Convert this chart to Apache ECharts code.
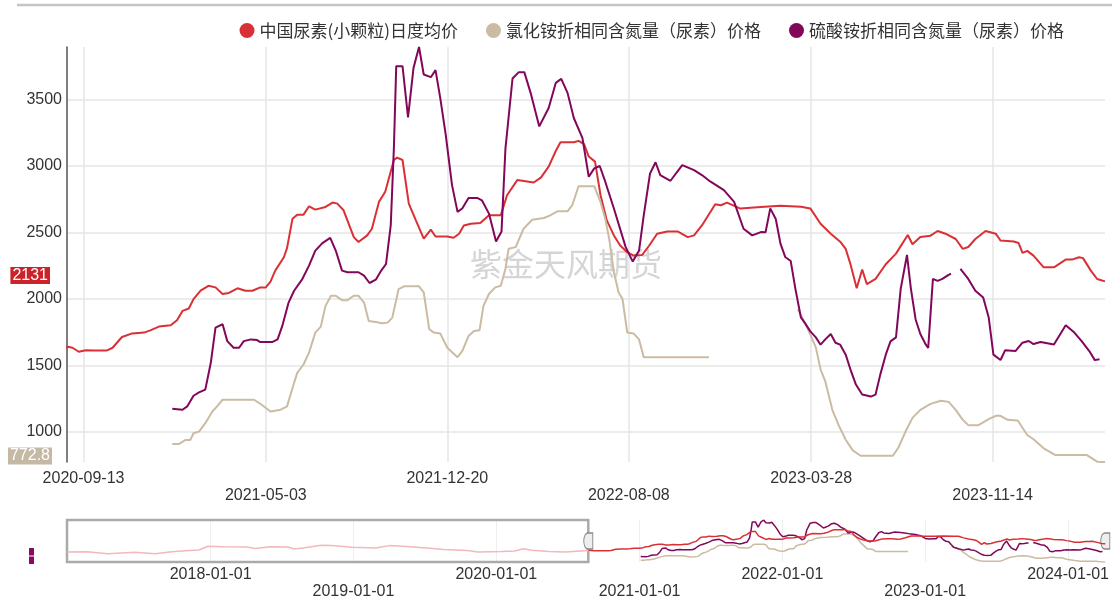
<!DOCTYPE html>
<html><head><meta charset="utf-8">
<script src="https://cdn.jsdelivr.net/npm/echarts@6/dist/echarts.min.js"></script>
<style>html,body{margin:0;padding:0;background:#fff}#c{width:1112px;height:600px}</style>
</head><body><div id="c"></div>
<script>
const legendNames = ['中国尿素(小颗粒)日度均价', '氯化铵折相同含氮量（尿素）价格', '硫酸铵折相同含氮量（尿素）价格'];
const colors = ['#da3035', '#cbbba3', '#82075a'];

const redDates = ['2016-12-30','2017-02-19','2017-04-13','2017-06-21','2017-08-12','2017-09-24','2017-11-07','2017-12-02','2017-12-25','2018-02-01','2018-04-04','2018-04-24','2018-06-03','2018-07-17','2018-08-03','2018-08-29','2018-10-11','2018-11-06','2018-12-28','2019-02-27','2019-04-03','2019-05-07','2019-07-07','2019-08-20','2019-10-19','2019-11-15','2020-01-14','2020-02-17','2020-03-10','2020-03-31','2020-05-15','2020-06-27','2020-08-14',
'2020-08-24','2020-08-30','2020-09-07','2020-09-16','2020-09-26','2020-10-13','2020-10-20','2020-11-01','2020-11-14','2020-11-29','2020-12-07','2020-12-18','2021-01-02','2021-01-10','2021-01-17','2021-01-25','2021-01-31','2021-02-09','2021-02-19','2021-02-28','2021-03-09','2021-03-17','2021-03-28','2021-04-07','2021-04-16','2021-04-26','2021-05-03','2021-05-09','2021-05-15','2021-05-26','2021-05-30','2021-06-06','2021-06-12','2021-06-20','2021-06-27','2021-07-05','2021-07-18','2021-07-27','2021-08-02','2021-08-10','2021-08-23','2021-08-29','2021-09-09','2021-09-15','2021-09-24','2021-10-02','2021-10-13','2021-10-17','2021-10-24','2021-11-01','2021-11-10','2021-11-20','2021-11-29','2021-12-05','2021-12-20','2021-12-28','2022-01-04','2022-01-10','2022-01-19','2022-01-31','2022-02-11','2022-02-26','2022-03-06','2022-03-19','2022-04-09','2022-04-18','2022-04-28','2022-05-07','2022-05-13','2022-05-30','2022-06-05','2022-06-12','2022-06-18','2022-06-26','2022-07-03','2022-07-11','2022-07-20','2022-07-28','2022-08-06','2022-08-14','2022-08-25','2022-09-03','2022-09-13','2022-09-26','2022-10-09','2022-10-22','2022-10-30','2022-11-09','2022-11-26','2022-12-03','2022-12-11','2022-12-28','2023-01-23','2023-02-17','2023-03-15','2023-03-27','2023-04-09','2023-04-22','2023-05-04','2023-05-11','2023-05-17','2023-05-25','2023-06-01','2023-06-07','2023-06-18','2023-07-01','2023-07-14','2023-07-29','2023-08-04','2023-08-14','2023-08-27','2023-09-05','2023-09-15','2023-09-28','2023-10-07','2023-10-14','2023-10-23','2023-11-05','2023-11-18','2023-11-24','2023-12-11','2023-12-17','2023-12-22','2023-12-28','2024-01-05','2024-01-18','2024-01-31','2024-02-15','2024-02-23','2024-03-03','2024-03-08','2024-03-18','2024-03-26','2024-04-05'];
const redValues = [1520,1530,1390,1500,1390,1530,1630,1660,1940,1910,1890,1780,1910,1890,1740,1830,2010,1990,1870,1810,1990,1940,1810,1710,1630,1520,1560,1590,1760,1640,1560,1520,1600,
1640,1632,1602,1614,1612,1612,1632,1713,1740,1746,1763,1791,1801,1839,1909,1927,1998,2061,2098,2086,2036,2044,2079,2061,2061,2086,2086,2129,2212,2313,2381,2603,2633,2633,2696,2671,2691,2724,2716,2666,2464,2427,2477,2527,2729,2805,3044,3062,3044,2716,2590,2452,2520,2469,2469,2459,2489,2552,2565,2570,2628,2628,2779,2893,2875,2911,2994,3112,3178,3178,3188,3163,3070,3032,2779,2590,2477,2401,2351,2325,2330,2401,2489,2507,2507,2464,2477,2552,2711,2704,2724,2679,2691,2700,2693,2680,2565,2490,2430,2376,2262,2080,2220,2110,2150,2260,2340,2480,2410,2465,2475,2510,2490,2450,2376,2390,2450,2510,2490,2439,2431,2420,2346,2361,2325,2237,2237,2295,2295,2313,2306,2212,2149,2131];

const grayDates = ['2021-01-04','2021-01-12','2021-01-21','2021-01-27','2021-01-31','2021-02-07','2021-02-15','2021-02-24','2021-03-02','2021-03-09','2021-04-18','2021-04-26','2021-05-09','2021-05-22','2021-05-30','2021-06-06','2021-06-12','2021-06-20','2021-06-27','2021-07-05','2021-07-12','2021-07-18','2021-07-25','2021-07-31','2021-08-08','2021-08-15','2021-08-23','2021-08-29','2021-09-05','2021-09-11','2021-09-20','2021-09-28','2021-10-05','2021-10-11','2021-10-19','2021-10-26','2021-11-14','2021-11-20','2021-11-27','2021-12-03','2021-12-11','2021-12-20','2022-01-02','2022-01-08','2022-01-16','2022-01-23','2022-01-30','2022-02-04','2022-02-11','2022-02-19','2022-02-26','2022-03-04','2022-03-08','2022-03-17','2022-03-27','2022-04-07','2022-04-22','2022-04-30','2022-05-09','2022-05-22','2022-05-28','2022-06-05','2022-06-25','2022-07-03','2022-07-09','2022-07-14','2022-07-20','2022-07-26','2022-07-31','2022-08-06','2022-08-14','2022-08-21','2022-08-27','2022-11-18','2023-01-01','2023-03-11','2023-03-21','2023-04-03','2023-04-09','2023-04-15','2023-04-24','2023-05-02','2023-05-11','2023-05-20','2023-05-30','2023-07-10','2023-07-17','2023-07-26','2023-08-04','2023-08-14','2023-08-27','2023-09-09','2023-09-19','2023-09-28','2023-10-07','2023-10-14','2023-10-27','2023-11-09','2023-11-18','2023-11-24','2023-12-03','2023-12-16','2023-12-28','2024-01-05','2024-01-18','2024-02-02','2024-03-13','2024-03-26','2024-04-05'];
const grayValues = [908,908,939,939,989,1001,1065,1153,1191,1241,1241,1211,1153,1166,1191,1330,1443,1506,1595,1746,1791,1947,2023,2023,1990,1990,2023,2023,1972,1834,1826,1816,1821,1859,2073,2094,2094,2048,1771,1746,1740,1632,1561,1607,1720,1758,1763,1947,2036,2086,2098,2225,2376,2389,2527,2595,2608,2628,2658,2658,2704,2847,2847,2729,2603,2452,2200,2048,1998,1746,1740,1695,1561,1561,null,1922,1810,1635,1470,1380,1165,1050,940,860,820,820,880,1000,1105,1165,1210,1233,1225,1165,1090,1050,1050,1095,1120,1120,1090,1085,976,944,876,825,825,775,772.8];

const purpleDates = ['2021-01-04','2021-01-17','2021-01-23','2021-01-31','2021-02-07','2021-02-15','2021-02-22','2021-02-28','2021-03-09','2021-03-15','2021-03-23','2021-03-30','2021-04-05','2021-04-14','2021-04-22','2021-04-26','2021-05-11','2021-05-18','2021-05-24','2021-06-01','2021-06-08','2021-06-18','2021-06-27','2021-07-05','2021-07-14','2021-07-24','2021-07-31','2021-08-08','2021-08-15','2021-08-29','2021-09-05','2021-09-12','2021-09-20','2021-09-26','2021-10-03','2021-10-09','2021-10-13','2021-10-16','2021-10-24','2021-10-31','2021-11-07','2021-11-14','2021-11-20','2021-11-29','2021-12-05','2021-12-11','2021-12-18','2021-12-26','2022-01-02','2022-01-08','2022-01-16','2022-01-27','2022-02-02','2022-02-11','2022-02-20','2022-02-27','2022-03-04','2022-03-13','2022-03-21','2022-03-28','2022-04-05','2022-04-16','2022-04-28','2022-05-07','2022-05-14','2022-05-22','2022-05-30','2022-06-10','2022-06-18','2022-06-25','2022-07-02','2022-07-09','2022-07-20','2022-08-04','2022-08-13','2022-08-21','2022-08-27','2022-09-04','2022-09-11','2022-09-17','2022-09-30','2022-10-15','2022-10-30','2022-11-09','2022-11-20','2022-12-07','2022-12-20','2023-01-01','2023-01-12','2023-01-23','2023-01-29','2023-02-04','2023-02-11','2023-02-17','2023-02-23','2023-03-02','2023-03-08','2023-03-15','2023-03-21','2023-03-27','2023-04-03','2023-04-09','2023-04-15','2023-04-22','2023-04-28','2023-05-04','2023-05-11','2023-05-17','2023-05-24','2023-06-01','2023-06-12','2023-06-18','2023-06-24','2023-07-01','2023-07-07','2023-07-14','2023-07-20','2023-07-28','2023-08-02','2023-08-08','2023-08-14','2023-08-21','2023-08-24','2023-08-30','2023-09-05','2023-09-11','2023-09-19','2023-09-22','2023-09-28','2023-10-04','2023-10-14','2023-10-23','2023-11-02','2023-11-09','2023-11-15','2023-11-24','2023-11-30','2023-12-13','2023-12-22','2023-12-30','2024-01-05','2024-01-14','2024-01-31','2024-02-15','2024-02-26','2024-03-06','2024-03-16','2024-03-23','2024-03-29'];
const purpleValues = [1173,1166,1191,1271,1296,1317,1519,1784,1809,1682,1632,1632,1682,1695,1690,1675,1675,1695,1796,1972,2061,2144,2250,2363,2419,2459,2363,2212,2200,2200,2174,2119,2144,2204,2262,2552,3132,3750,3750,3365,3737,3894,3687,3667,3720,3511,3233,2855,2654,2679,2759,2759,2741,2641,2431,2507,3132,3657,3705,3705,3549,3297,3435,3624,3654,3549,3360,3208,2918,2981,2999,2881,2679,2389,2280,2363,2628,2943,3027,2931,2888,3006,2968,2931,2881,2817,2729,2527,2477,2502,2500,2680,2600,2415,2315,2285,2075,1860,1810,1755,1710,1655,1695,1735,1670,1655,1580,1470,1355,1280,1265,1280,1430,1580,1680,1710,2075,2330,2075,1845,1735,1655,1630,2150,2135,2150,2180,2190,null,2225,2150,2060,2010,1860,1580,1540,1614,1607,1670,1683,1660,1675,1657,1801,1746,1683,1607,1539,1545];

const windowStart = '2020-08-23';
const windowEnd = '2024-04-05';
const navStart = '2016-12-30';
const mainTickDates = ['2020-09-13','2021-05-03','2021-12-20','2022-08-08','2023-03-28','2023-11-14'];
const navTickDates = ['2018-01-01','2019-01-01','2020-01-01','2021-01-01','2022-01-01','2023-01-01','2024-01-01'];
const watermark = '紫金天风期货';

const P = s => echarts.number.parseDate(s).getTime();
const zip = (d, v) => d.map((x, i) => [P(x), v[i]]);
const redData = zip(redDates, redValues);
const grayData = zip(grayDates, grayValues);
const purpleData = zip(purpleDates, purpleValues);

const ws = P(windowStart);
const redBefore = [], redAfter = [];
let bridged = false;
redData.forEach(p => {
  if (p[0] <= ws) redBefore.push(p);
  else { if (!bridged) { redBefore.push(p); bridged = true; } redAfter.push(p); }
});

const allVals = redValues.concat(grayValues, purpleValues).filter(v => v != null);
const vMin = Math.min(...allVals), vMax = Math.max(...allVals);
const vMid = (vMin + vMax) / 2;

const mainTicks = mainTickDates.map(P);
const navTicks = navTickDates.map(P);
const fmtDate = v => echarts.time.format(v, '{yyyy}-{MM}-{dd}', false);
const stagger = ticks => (v) => {
  const i = ticks.indexOf(v);
  const s = fmtDate(v);
  return i % 2 === 1 ? '\n' + s : s;
};

const lineBase = { type: 'line', showSymbol: false, symbol: 'none', connectNulls: false, animation: false };
const handleSymbol = 'path://M4,0 L9,0 L9,16 L4,16 A4,8 0 0 1 4,0 Z';

const chart = echarts.init(document.getElementById('c'), null, { renderer: 'canvas' });
const option = {
  animation: false,
  color: colors,
  legend: {
    data: legendNames, right: 43, top: 17, icon: 'circle', itemWidth: 15, itemHeight: 15, itemGap: 28,
    textStyle: { fontSize: 17, color: '#333', fontFamily: 'Noto Sans CJK SC' }
  },
  grid: [
    { left: 67, right: 7, top: 47, bottom: 138 },
    { left: 67, right: 5, top: 520, height: 42 }
  ],
  xAxis: [
    { type: 'value', gridIndex: 0, min: P(windowStart), max: P(windowEnd),
      axisLine: { show: false }, axisTick: { show: false, customValues: mainTicks },
      axisLabel: { customValues: mainTicks, formatter: stagger(mainTicks), fontSize: 16, color: '#333', margin: 8, lineHeight: 17, fontFamily: 'Liberation Sans' },
      splitLine: { show: true, lineStyle: { color: '#e6e6e6', width: 1.5 } } },
    { type: 'value', gridIndex: 1, min: P(navStart), max: P(windowEnd),
      axisLine: { show: false }, axisTick: { show: false, customValues: navTicks },
      axisLabel: { customValues: navTicks, formatter: stagger(navTicks), fontSize: 16, color: '#333', margin: 4, lineHeight: 17, fontFamily: 'Liberation Sans' },
      splitLine: { show: true, lineStyle: { color: '#eeeeee', width: 1 } } }
  ],
  yAxis: [
    { type: 'value', gridIndex: 0, min: 'dataMin', max: 'dataMax',
      axisLine: { show: true, lineStyle: { color: '#555', width: 1.5 } }, axisTick: { show: false },
      axisLabel: { fontSize: 16, color: '#333', margin: 5, showMinLabel: false, showMaxLabel: false, fontFamily: 'Liberation Sans', formatter: v => String(v) },
      splitLine: { show: true, showMinLine: false, showMaxLine: false, lineStyle: { color: '#e6e6e6', width: 1.5 } } },
    { type: 'value', gridIndex: 1, min: vMin, max: vMax, show: false }
  ],
  series: [
    Object.assign({}, lineBase, { name: legendNames[0], xAxisIndex: 0, yAxisIndex: 0, data: redData, lineStyle: { width: 2, color: colors[0] }, itemStyle: { color: colors[0] }, z: 3 }),
    Object.assign({}, lineBase, { name: legendNames[1], xAxisIndex: 0, yAxisIndex: 0, data: grayData, lineStyle: { width: 2, color: colors[1] }, itemStyle: { color: colors[1] }, z: 3 }),
    Object.assign({}, lineBase, { name: legendNames[2], xAxisIndex: 0, yAxisIndex: 0, data: purpleData, lineStyle: { width: 2, color: colors[2] }, itemStyle: { color: colors[2] }, z: 4 }),
    Object.assign({}, lineBase, { name: 'nav-red-before', xAxisIndex: 1, yAxisIndex: 1, data: redBefore, lineStyle: { width: 1.5, color: '#f2b8bb' }, z: 3,
      markArea: { silent: true, itemStyle: { color: 'rgba(0,0,0,0)', borderColor: '#aaaaaa', borderWidth: 2.5 }, data: [[{ xAxis: P(navStart) }, { xAxis: ws }]] } }),
    Object.assign({}, lineBase, { name: 'nav-gray', xAxisIndex: 1, yAxisIndex: 1, data: grayData, lineStyle: { width: 1.5, color: colors[1] }, z: 3 }),
    Object.assign({}, lineBase, { name: 'nav-purple', xAxisIndex: 1, yAxisIndex: 1, data: purpleData, lineStyle: { width: 1.5, color: colors[2] }, z: 4 }),
    Object.assign({}, lineBase, { name: 'nav-red', xAxisIndex: 1, yAxisIndex: 1, data: redAfter, lineStyle: { width: 1.5, color: colors[0] }, z: 5,
      markPoint: { silent: true, symbol: handleSymbol, symbolSize: [9, 16], label: { show: false },
        itemStyle: { color: '#eeeeee', borderColor: '#888888', borderWidth: 1.2 },
        data: [{ coord: [ws, vMid] }, { coord: [P(windowEnd), vMid] }] } })
  ]
};
chart.setOption(option);

const lastRed = redValues[redValues.length - 1];
const lastGray = grayValues[grayValues.length - 1];
const yRed = chart.convertToPixel({ yAxisIndex: 0 }, lastRed);
const yGray = chart.convertToPixel({ yAxisIndex: 0 }, lastGray);
chart.setOption({
  graphic: { elements: [
    { type: 'line', shape: { x1: 17, y1: 5, x2: 1112, y2: 5 }, style: { stroke: '#c4c4c4', lineWidth: 2.5 }, silent: true },
    { type: 'text', left: 470, top: 248, z: -1, silent: true, style: { text: watermark, font: '32px "Noto Sans CJK SC"', fill: 'rgba(150,150,150,0.4)' } },
    { type: 'text', x: 50, y: yRed - 6, z: 100, silent: true, style: { text: String(lastRed), align: 'right', verticalAlign: 'middle', font: '16px "Liberation Sans"', fill: '#fff', backgroundColor: '#cc2229', padding: [1, 2, 0, 2] } },
    { type: 'text', x: 52, y: yGray - 6, z: 100, silent: true, style: { text: String(lastGray), align: 'right', verticalAlign: 'middle', font: '16px "Liberation Sans"', fill: '#fff', backgroundColor: '#c5b9a6', padding: [1, 2, 0, 2] } },
    { type: 'rect', shape: { x: 29, y: 548, width: 5, height: 16 }, style: { fill: '#8a0b5e' }, silent: true },
    { type: 'line', shape: { x1: 29, y1: 556, x2: 34, y2: 556 }, style: { stroke: '#fff', lineWidth: 1 }, silent: true }
  ] }
});
</script>
</body></html>
